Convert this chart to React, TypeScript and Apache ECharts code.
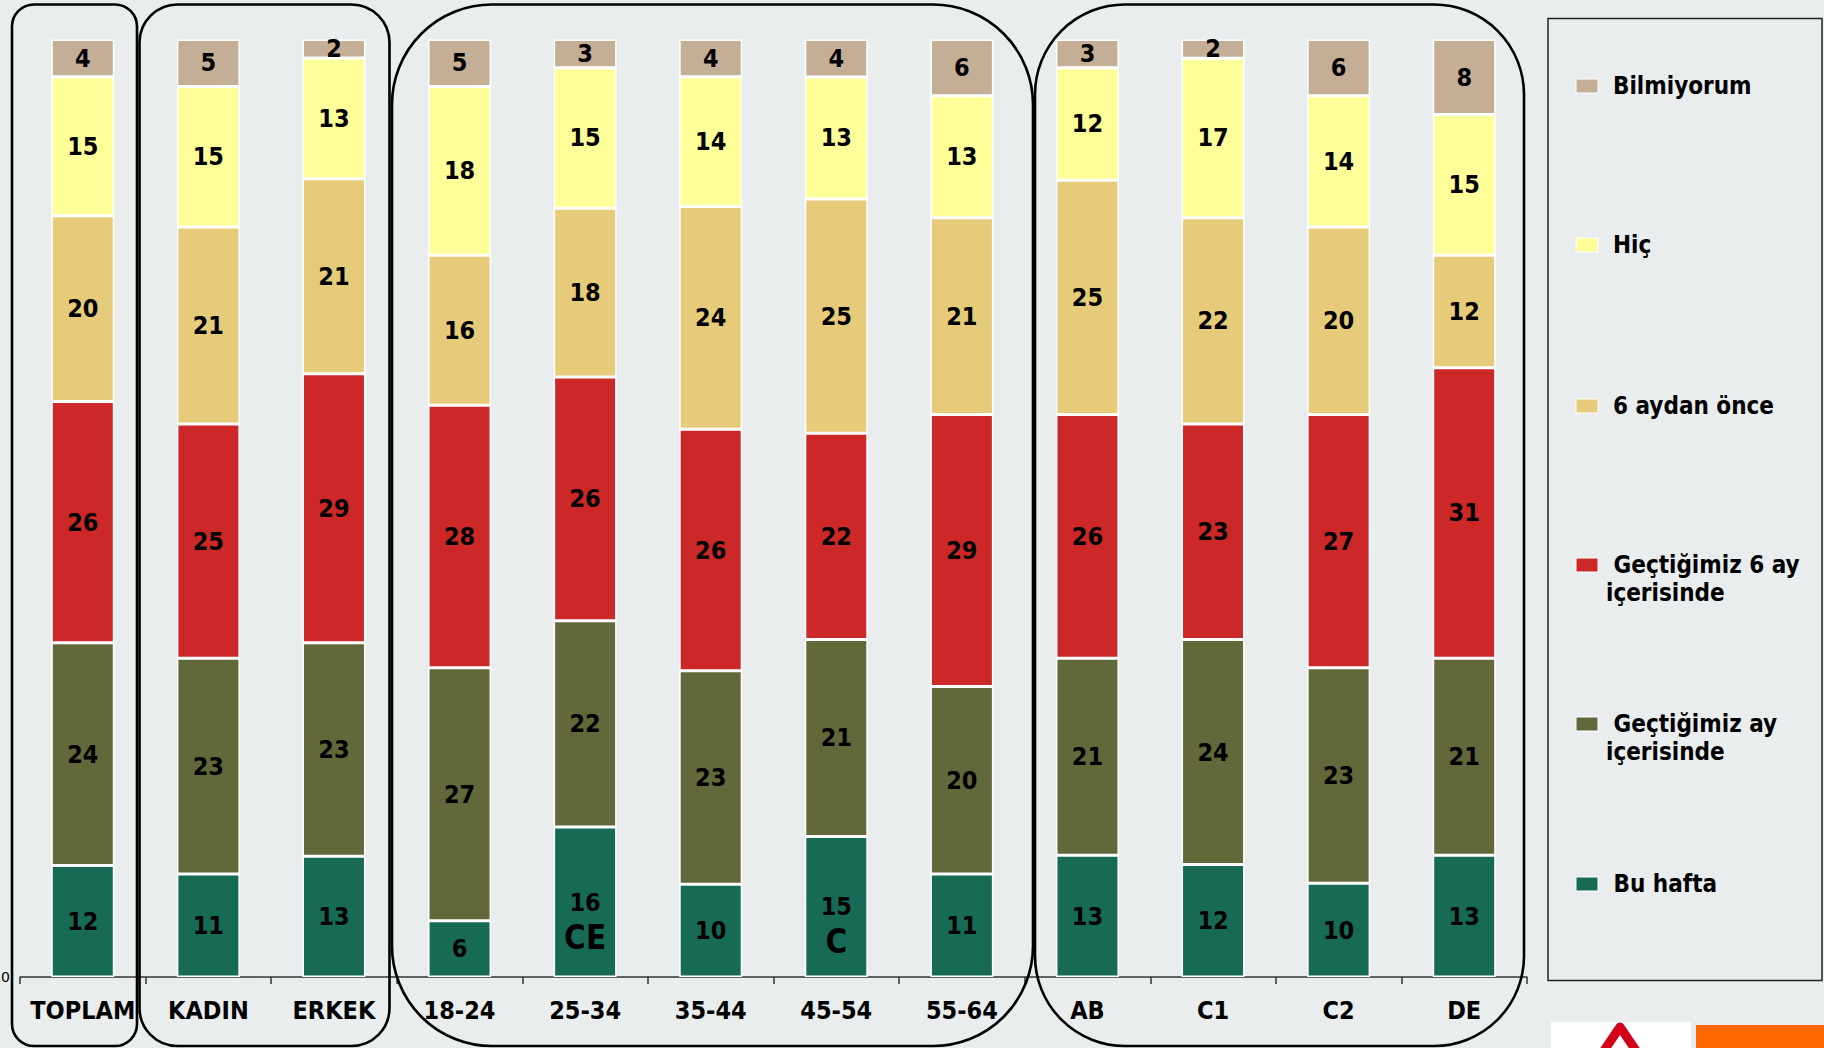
import React, { useEffect, useRef } from 'react';
import * as echarts from 'echarts';

const categories = ['TOPLAM', 'KADIN', 'ERKEK', '18-24', '25-34', '35-44', '45-54', '55-64', 'AB', 'C1', 'C2', 'DE'];
const buHafta = [12, 11, 13, 6, 16, 10, 15, 11, 13, 12, 10, 13];
const gectigimizAy = [24, 23, 23, 27, 22, 23, 21, 20, 21, 24, 23, 21];
const gectigimiz6Ay = [26, 25, 29, 28, 26, 26, 22, 29, 26, 23, 27, 31];
const altiAydanOnce = [20, 21, 21, 16, 18, 24, 25, 21, 25, 22, 20, 12];
const hic = [15, 15, 13, 18, 15, 14, 13, 13, 12, 17, 14, 15];
const bilmiyorum = [4, 5, 2, 5, 3, 4, 4, 6, 3, 2, 6, 8];
const buHaftaSig = ['', '', '', '', 'CE', '', 'C', '', '', '', '', ''];
const seriesNames = ['Bu hafta', 'Geçtiğimiz ay içerisinde', 'Geçtiğimiz 6 ay içerisinde', '6 aydan önce', 'Hiç', 'Bilmiyorum'];
const seriesColors = ['#176B55', '#62683A', '#CC2828', '#E6CC7A', '#FFFF99', '#C4AE96'];
const legendLines = [
  ['Bilmiyorum'],
  ['Hiç'],
  ['6 aydan önce'],
  [' Geçtiğimiz 6 ay', 'içerisinde'],
  [' Geçtiğimiz ay', 'içerisinde'],
  [' Bu hafta'],
];
const legendColorIdx = [5, 4, 3, 2, 1, 0];

const FONT = '"DejaVu Sans Condensed", "DejaVu Sans", sans-serif';

export default function App() {
  const ref = useRef<HTMLDivElement>(null);
  useEffect(() => {
    if (!ref.current) return;
    const chart = echarts.init(ref.current, undefined, { renderer: 'svg' });
    const raw = [buHafta, gectigimizAy, gectigimiz6Ay, altiAydanOnce, hic, bilmiyorum];
    const totals = categories.map((_, i) => raw.reduce((s, arr) => s + arr[i], 0));
    const series = raw.map((arr, si) => ({
      name: seriesNames[si],
      type: 'bar',
      stack: 'total',
      barWidth: 63,
      itemStyle: { color: seriesColors[si], borderColor: '#ffffff', borderWidth: 1.5 },
      label: {
        show: true,
        position: 'inside',
        color: '#000',
        fontWeight: 'bold',
        fontSize: 25,
        fontFamily: FONT,
        formatter: (p: any) => String(arr[p.dataIndex]),
      },
      data: arr.map((v, i) => {
        const item: any = { value: (v / totals[i]) * 100 };
        if (si === 0 && buHaftaSig[i]) {
          item.label = {
            formatter: `{v|${v}}\n{s|${buHaftaSig[i]}}`,
            offset: [0, 20],
            rich: {
              v: { fontSize: 25, fontWeight: 'bold', lineHeight: 30, fontFamily: FONT, color: '#000' },
              s: { fontSize: 33, fontWeight: 'bold', lineHeight: 40, fontFamily: FONT, color: '#000' },
            },
          };
        }
        return item;
      }),
    }));

    const graphic: any[] = [];
    const boxes = [
      { x: 12, w: 125, r: 22 },
      { x: 139.5, w: 250, r: 38 },
      { x: 392, w: 641, r: 100 },
      { x: 1035, w: 489, r: 90 },
    ];
    boxes.forEach((b) => {
      graphic.push({
        type: 'rect',
        shape: { x: b.x, y: 4.5, width: b.w, height: 1041.5, r: b.r },
        style: { fill: 'none', stroke: '#000', lineWidth: 2.6 },
        z: 10,
      });
    });
    graphic.push({
      type: 'rect',
      shape: { x: 1548, y: 18.5, width: 274, height: 962 },
      style: { fill: 'none', stroke: '#222', lineWidth: 1.5 },
    });
    const legendY = [86, 245, 406, 565, 724, 884];
    legendLines.forEach((lines, k) => {
      const y = legendY[k];
      graphic.push({
        type: 'rect',
        shape: { x: 1576, y: y - 7, width: 22, height: 14 },
        style: { fill: seriesColors[legendColorIdx[k]], stroke: '#ffffff', lineWidth: 1 },
      });
      lines.forEach((t, li) => {
        graphic.push({
          type: 'text',
          x: li === 0 ? (t.startsWith(' ') ? 1606 : 1613) : 1606,
          y: y + li * 28,
          style: {
            text: t,
            font: `bold 24px ${FONT}`,
            fill: '#000',
            verticalAlign: 'middle',
            align: 'left',
          },
        });
      });
    });
    graphic.push({
      type: 'rect',
      shape: { x: 1551, y: 1022, width: 140, height: 30 },
      style: { fill: '#ffffff' },
    });
    graphic.push({
      type: 'polyline',
      shape: { points: [[1603, 1052], [1620, 1027], [1637, 1052]] },
      style: { stroke: '#D4001A', lineWidth: 9, fill: 'none', lineJoin: 'round' },
    });
    graphic.push({
      type: 'rect',
      shape: { x: 1696, y: 1025, width: 128, height: 25 },
      style: { fill: '#FF6600' },
    });

    chart.setOption({
      animation: false,
      backgroundColor: '#E9EDEE',
      grid: { left: 20, right: 297, top: 39.5, bottom: 71, containLabel: false, outerBoundsMode: 'none' },
      xAxis: {
        type: 'category',
        data: categories,
        axisLine: { lineStyle: { color: '#333', width: 1.5 } },
        axisTick: { show: true, length: 7, lineStyle: { color: '#333', width: 1.5 } },
        axisLabel: {
          color: '#000',
          fontWeight: 'bold',
          fontSize: 25,
          fontFamily: FONT,
          margin: 21,
          interval: 0,
        },
      },
      yAxis: {
        type: 'value',
        min: 0,
        max: 100,
        interval: 100,
        splitLine: { show: false },
        axisLine: { show: false },
        axisTick: { show: false },
        axisLabel: {
          formatter: (v: number) => (v === 0 ? '0' : ''),
          fontSize: 14,
          color: '#000',
          margin: 10,
          fontFamily: '"DejaVu Sans", sans-serif',
        },
      },
      series,
      graphic,
    });
    return () => chart.dispose();
  }, []);
  return (
    <div
      ref={ref}
      style={{ position: 'absolute', left: 0, top: 0, width: 1824, height: 1048 }}
    />
  );
}
